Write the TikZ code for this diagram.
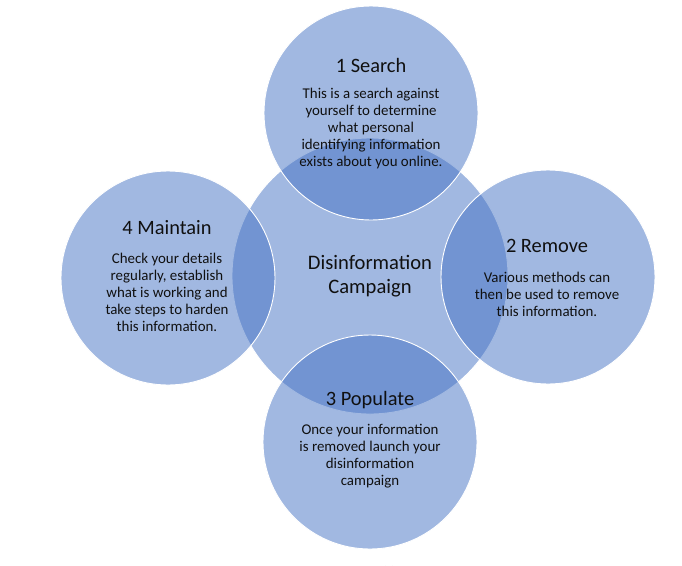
\documentclass[tikz,border=0pt]{standalone}
\usepackage{fontspec}
\setmainfont{Carlito}
\definecolor{accent}{HTML}{4472C4}
\definecolor{txt}{HTML}{101010}
\tikzset{
  bubble/.style={circle, fill=accent, fill opacity=0.5, draw=white, line width=0.9pt, inner sep=0pt},
  ttl/.style={inner sep=0pt, text=txt, font=\fontsize{20.4}{24}\selectfont},
  body/.style={inner sep=0pt, align=center, text=txt, font=\fontsize{14.9}{17}\selectfont},
  hub/.style={inner sep=0pt, align=center, text=txt, font=\fontsize{20.6}{24}\selectfont}
}
\begin{document}
\begin{tikzpicture}[x=1pt,y=-1pt]
\useasboundingbox (0,0) rectangle (682,565);
\fill[white] (0,0) rectangle (682,565);
% circles
\node[bubble, minimum size=276pt] (hubc) at (370,276) {};
\node[bubble, minimum size=214pt] (c1) at (371,113) {};
\node[bubble, minimum size=214pt] (c2) at (548,277) {};
\node[bubble, minimum size=214pt] (c3) at (370,442) {};
\node[bubble, minimum size=214pt] (c4) at (168,278) {};
% texts
\node[hub] (hubt) at (370,276) {Disinformation\\Campaign};
\node[ttl] (t1) at (371,65) {1 Search};
\node[body] (b1) at (371,129) {This is a search against\\yourself to determine\\what personal\\identifying information\\exists about you online.};
\node[ttl] (t2) at (547,246) {2 Remove};
\node[body] (b2) at (547,294) {Various methods can\\then be used to remove\\this information.};
\node[ttl] (t3) at (370,400) {3 Populate};
\node[body] (b3) at (370,456) {Once your information\\is removed launch your\\disinformation\\campaign};
\node[ttl] (t4) at (167,228) {4 Maintain};
\node[body] (b4) at (167,292) {Check your details\\regularly, establish\\what is working and\\take steps to harden\\this information.};
% small artifact at bottom
\draw[gray!70, line width=0.8pt] (385,566) arc[start angle=180, end angle=0, radius=4];
\end{tikzpicture}
\end{document}
